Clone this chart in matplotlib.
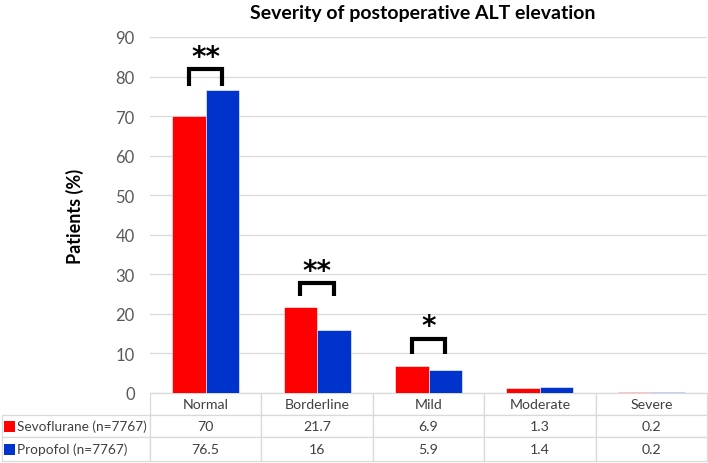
import matplotlib
matplotlib.use('Agg')
import matplotlib.pyplot as plt
from matplotlib.patches import Rectangle
from matplotlib.table import Table
import numpy as np

plt.rcParams['font.family'] = ['Lato', 'DejaVu Sans']

# data
categories = ['Normal', 'Borderline', 'Mild', 'Moderate', 'Severe']
series_names = ['Sevoflurane (n=7767)', 'Propofol (n=7767)']
sevoflurane = [70, 21.7, 6.9, 1.3, 0.2]
propofol = [76.5, 16, 5.9, 1.4, 0.2]
sevo_text = ['70', '21.7', '6.9', '1.3', '0.2']
prop_text = ['76.5', '16', '5.9', '1.4', '0.2']
sig_idx = [0, 1, 2]
sig_labels = ['**', '**', '*']
sig_low = [77.7, 24.5, 9.9]
sig_high = [81.9, 27.8, 13.7]

red = '#ff0000'
blue = '#0033cc'
grid_c = '#d9d9d9'
txt_c = '#404040'

W, H = 708, 464
fig = plt.figure(figsize=(W / 100, H / 100), dpi=100)
ax_l, ax_r, ax_t, ax_b = 150, 707, 38, 394
ax = fig.add_axes([ax_l / W, 1 - ax_b / H, (ax_r - ax_l) / W, (ax_b - ax_t) / H])

x = np.arange(len(categories))
bw = 0.3
ax.bar(x - bw / 2, sevoflurane, bw, color=red, edgecolor='white', linewidth=0.4, zorder=3)
ax.bar(x + bw / 2, propofol, bw, color=blue, edgecolor='white', linewidth=0.4, zorder=3)

ax.set_xlim(-0.5, len(categories) - 0.5)
ax.set_ylim(0, 90)
ax.set_yticks(range(0, 91, 10))
ax.set_xticks([])
ax.grid(axis='y', color=grid_c, linewidth=0.9, zorder=0)
ax.set_axisbelow(True)
for s in ax.spines.values():
    s.set_visible(False)
ax.tick_params(axis='y', length=0, pad=11, labelsize=12, labelcolor='#595959')

ax.set_ylabel('Patients (%)', fontsize=13, fontweight='bold', color='black', va='center')
ax.yaxis.set_label_coords((75 - ax_l) / (ax_r - ax_l), 0.5)

# significance brackets
for i, lab, lo, hi in zip(sig_idx, sig_labels, sig_low, sig_high):
    xl, xr = i - bw / 2, i + bw / 2
    ax.plot([xl, xl, xr, xr], [lo, hi, hi, lo], color='black', lw=3,
            solid_joinstyle='miter', solid_capstyle='butt', zorder=4)
    ax.text(i, hi - 0.4, lab, ha='center', va='bottom', fontsize=20,
            fontweight='bold', color='black', family='DejaVu Sans')

fig.text(423 / W, 1 - 13 / H, 'Severity of postoperative ALT elevation',
         ha='center', va='center', fontsize=14, fontweight='bold', color='black')

# data table below the axes
aw = ax_r - ax_l
ah = ax_b - ax_t
tab_left = 2
row_h = [22, 22, 24]
label_w = ax_l - tab_left
cat_w = aw / len(categories)
total_h = sum(row_h)
tb = Table(ax, bbox=[(tab_left - ax_l) / aw, -total_h / ah, (ax_r - tab_left) / aw, total_h / ah])
rows = [[''] + categories,
        [series_names[0]] + sevo_text,
        [series_names[1]] + prop_text]
for r, row in enumerate(rows):
    for c, val in enumerate(row):
        w = label_w if c == 0 else cat_w
        loc = 'left' if c == 0 else 'center'
        cell = tb.add_cell(r, c, w, row_h[r], text=val, loc=loc,
                           edgecolor=grid_c, facecolor='white')
        cell.get_text().set_color(txt_c)
        cell.get_text().set_fontsize(9.8 if c == 0 else 10.2)
        cell.set_linewidth(0.9)
        if r == 0 and c == 0:
            cell.visible_edges = 'open'
        if c == 0:
            cell.PAD = 0.1
tb.auto_set_font_size(False)
ax.add_table(tb)

# legend keys in the table
for k, col in enumerate([red, blue]):
    yc = ax_b + row_h[0] + sum(row_h[1:1 + k]) + row_h[1 + k] / 2
    ax.add_patch(Rectangle(((4 - ax_l) / aw, (ax_b - yc - 5.5) / ah), 11 / aw, 11 / ah,
                           transform=ax.transAxes, facecolor=col, edgecolor='none',
                           clip_on=False, zorder=5))

fig.savefig('out.png', dpi=100)
